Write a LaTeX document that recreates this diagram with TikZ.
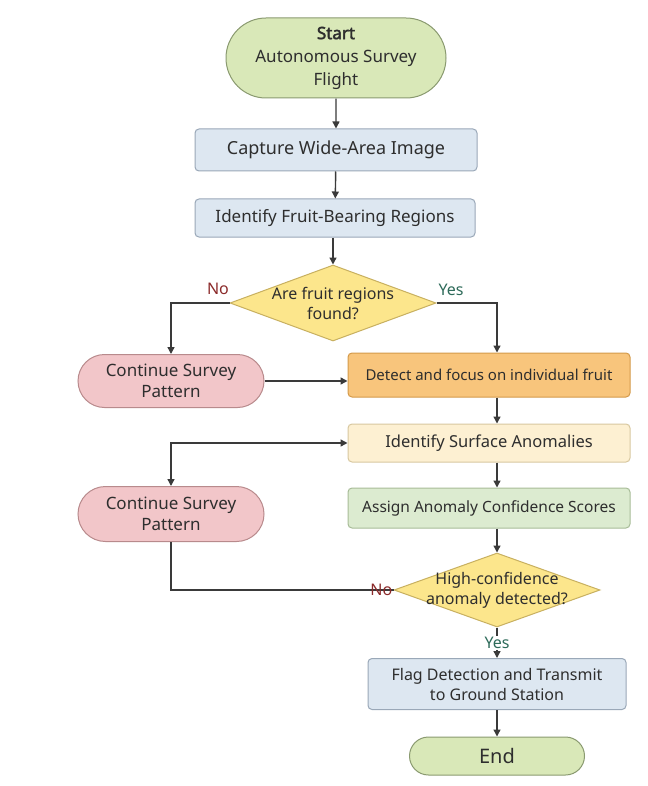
\documentclass[tikz,border=0pt]{standalone}
\usepackage{fontspec}
\setmainfont{Noto Sans}
\newfontfamily\startbf{Noto Sans}[FakeBold=2.5]
\usetikzlibrary{shapes.misc,shapes.geometric,arrows.meta}
\definecolor{txt}{HTML}{2E2E2E}
\definecolor{linec}{HTML}{3A3A3A}
\definecolor{greenf}{HTML}{D9E8B8}
\definecolor{greenb}{HTML}{8A9A70}
\definecolor{bluef}{HTML}{DDE7F1}
\definecolor{blueb}{HTML}{9AA8B8}
\definecolor{decf}{HTML}{FCE68C}
\definecolor{decb}{HTML}{C8B060}
\definecolor{pinkf}{HTML}{F2C6C9}
\definecolor{pinkb}{HTML}{B88A8C}
\definecolor{orangef}{HTML}{F8C57C}
\definecolor{orangeb}{HTML}{D49A4A}
\definecolor{creamf}{HTML}{FDF0D2}
\definecolor{creamb}{HTML}{D8C8A0}
\definecolor{lgreenf}{HTML}{DCEBD0}
\definecolor{lgreenb}{HTML}{A8BC98}
\definecolor{noc}{HTML}{8B2A2A}
\definecolor{yesc}{HTML}{2E6B5A}
\begin{document}
\begin{tikzpicture}[x=1pt,y=-1pt,
  base/.style={draw, line width=1pt, text=txt, align=center, inner sep=0pt,
    font=\fontsize{17}{21}\selectfont},
  box/.style={base, rectangle, rounded corners=4pt},
  pill/.style={base, rounded rectangle},
  dec/.style={draw=decb, fill=decf, diamond, line width=1pt, minimum width=206pt,
    minimum height=76pt, inner sep=0pt},
  dectext/.style={text=txt, align=center, font=\fontsize{16}{20}\selectfont},
  arr/.style={-{Triangle[length=7pt,width=7pt]}, line width=1.4pt, draw=linec},
  plain/.style={line width=1.4pt, draw=linec},
  lab/.style={font=\fontsize{16}{18}\selectfont}
]
\useasboundingbox[fill=white] (0,0) rectangle (647,786);

\node[pill, fill=greenf, draw=greenb, minimum width=220pt, minimum height=80pt,
  font=\fontsize{17}{23}\selectfont] (start) at (336,58)
  {{\startbf Start}\\Autonomous Survey\\Flight};
\node[box, fill=bluef, draw=blueb, minimum width=282pt, minimum height=42pt,
  font=\fontsize{18}{21}\selectfont] (cap) at (336,150)
  {Capture Wide-Area Image};
\node[box, fill=bluef, draw=blueb, minimum width=280pt, minimum height=38pt] (idf) at (335,218)
  {Identify Fruit-Bearing Regions};
\node[dec] (d1) at (333,303) {};
\node[dectext] at (d1) {Are fruit regions\\found?};
\node[pill, fill=pinkf, draw=pinkb, minimum width=186pt, minimum height=53pt] (c1) at (171,381)
  {Continue Survey\\Pattern};
\node[box, fill=orangef, draw=orangeb, minimum width=282pt, minimum height=44pt,
  font=\fontsize{15}{18}\selectfont] (det) at (489,375)
  {Detect and focus on individual fruit};
\node[box, fill=creamf, draw=creamb, minimum width=282pt, minimum height=38pt,
  font=\fontsize{16.5}{19}\selectfont] (surf) at (489,443)
  {Identify Surface Anomalies};
\node[pill, fill=pinkf, draw=pinkb, minimum width=186pt, minimum height=55pt] (c2) at (171,514)
  {Continue Survey\\Pattern};
\node[box, fill=lgreenf, draw=lgreenb, minimum width=282pt, minimum height=40pt,
  font=\fontsize{15.5}{18}\selectfont] (assign) at (489,508)
  {Assign Anomaly Confidence Scores};
\node[dec, minimum height=74pt] (d2) at (497,590) {};
\node[dectext] at (d2) {High-confidence\\anomaly detected?};
\node[box, fill=bluef, draw=blueb, minimum width=258pt, minimum height=51pt,
  font=\fontsize{16}{20}\selectfont] (flag) at (497,684)
  {Flag Detection and Transmit\\to Ground Station};
\node[pill, fill=greenf, draw=greenb, minimum width=175pt, minimum height=38pt,
  font=\fontsize{20}{22}\selectfont] (end) at (497,756) {End};

\coordinate (colx) at (497,0);

\draw[arr] (start) -- (cap);
\draw[arr] (cap) -- (idf);
\draw[arr] (idf.south -| d1.north) -- (d1.north);
\draw[arr] (d1.west) -| (c1.north);
\node[lab, text=noc] (no1) at (218,289) {No};
\draw[arr] (d1.east) -| (det.north -| colx);
\node[lab, text=yesc] (yes1) at (451,290) {Yes};
\draw[arr] (c1.east) -- (c1.east -| det.west);
\draw[arr] (det.south -| colx) -- (surf.north -| colx);
\draw[{Triangle[length=7pt,width=7pt]}-{Triangle[length=7pt,width=7pt]}, line width=1.4pt, draw=linec]
  (c2.north) |- (surf.west);
\draw[arr] (surf.south -| colx) -- (assign.north -| colx);
\draw[arr] (assign.south -| colx) -- (d2.north);
\draw[plain] (c2.south) |- (d2.west);
\node[lab, text=noc, anchor=east, inner sep=1pt] (no2) at (d2.west) {No};
\draw[arr] (d2.south) -- node[lab, fill=white, text=yesc, inner sep=1pt] (yes2) {Yes} (flag.north);
\draw[arr] (flag) -- (end);
\end{tikzpicture}
\end{document}
